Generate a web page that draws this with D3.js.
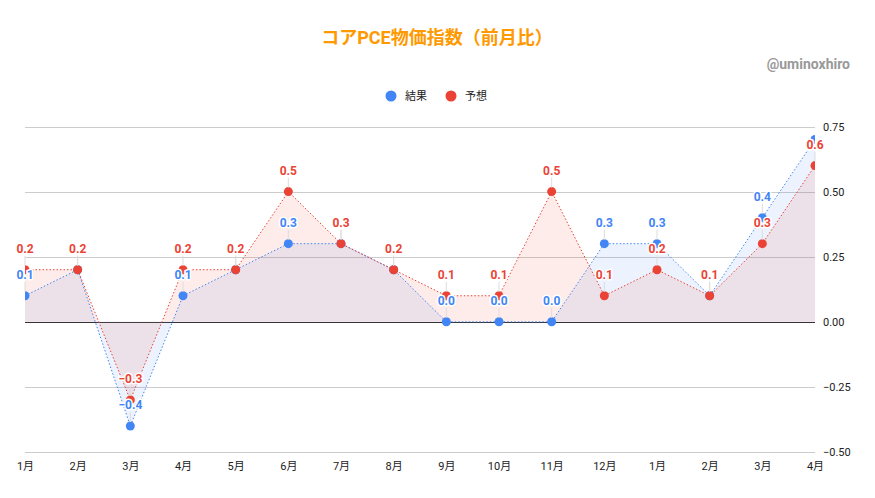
<!DOCTYPE html>
<html>
<head>
<meta charset="utf-8">
<script src="https://cdn.jsdelivr.net/npm/d3@7"></script>
<style>
  body { margin: 0; background: #fff; }
  text { font-family: Roboto, "Noto Sans CJK JP", sans-serif; }
</style>
</head>
<body>
<svg id="chart" width="875" height="498"></svg>
<script>
'use strict';

var months = ["1月", "2月", "3月", "4月", "5月", "6月", "7月", "8月", "9月", "10月", "11月", "12月", "1月", "2月", "3月", "4月"];
var actual = [0.1, 0.2, -0.4, 0.1, 0.2, 0.3, 0.3, 0.2, 0.0, 0.0, 0.0, 0.3, 0.3, 0.1, 0.4, 0.7];
var forecast = [0.2, 0.2, -0.3, 0.2, 0.2, 0.5, 0.3, 0.2, 0.1, 0.1, 0.5, 0.1, 0.2, 0.1, 0.3, 0.6];
var yTicks = [-0.5, -0.25, 0, 0.25, 0.5, 0.75];

var series = [
    { name: "結果", values: actual, color: "#4285f4" },
    { name: "予想", values: forecast, color: "#ea4335" }
];

var svg = d3.select("#chart");
var plotLeft = 25, plotRight = 815, plotTop = 126.5, plotBottom = 452;

var x = d3.scalePoint().domain(d3.range(months.length)).range([plotLeft, plotRight]);
var y = d3.scaleLinear().domain([-0.5, 0.75]).range([plotBottom, plotTop]);

// title + watermark
svg.append("text")
    .attr("x", 437).attr("y", 44)
    .attr("text-anchor", "middle")
    .attr("font-size", 18).attr("font-weight", "bold")
    .attr("fill", "#ff9900")
    .text("コアPCE物価指数（前月比）");

svg.append("text")
    .attr("x", 850).attr("y", 69)
    .attr("text-anchor", "end")
    .attr("font-size", 14).attr("font-weight", "bold")
    .attr("fill", "#999")
    .text("@uminoxhiro");

// legend
var legend = svg.append("g");
var lx = [391, 451];
series.forEach(function (s, i) {
    legend.append("circle").attr("cx", lx[i]).attr("cy", 96).attr("r", 5.5).attr("fill", s.color);
    legend.append("text").attr("x", lx[i] + 14).attr("y", 100)
        .attr("font-size", 11).attr("fill", "#222").text(s.name);
});

// grid
var yAxis = d3.axisRight(y).tickValues(yTicks).tickSize(0).tickFormat(d3.format(".2f"));
var gy = svg.append("g").attr("transform", "translate(" + plotRight + ",0)").call(yAxis);
gy.select(".domain").remove();
gy.selectAll("text").attr("x", 8).attr("font-size", 11).attr("fill", "#222")
    .attr("font-family", "Roboto, sans-serif");

svg.append("g").selectAll("line").data(yTicks).join("line")
    .attr("x1", plotLeft).attr("x2", plotRight)
    .attr("y1", function (d) { return Math.round(y(d)) + 0.5; })
    .attr("y2", function (d) { return Math.round(y(d)) + 0.5; })
    .attr("stroke", function (d) { return d === 0 ? "#333" : "#ccc"; })
    .attr("stroke-width", 1);

var xAxis = d3.axisBottom(x).tickSize(0).tickFormat(function (i) { return months[i]; });
var gx = svg.append("g").attr("transform", "translate(0," + (plotBottom + 7) + ")").call(xAxis);
gx.select(".domain").remove();
gx.selectAll("text").attr("font-size", 11).attr("fill", "#222")
    .attr("font-family", "Roboto, 'Noto Sans CJK JP', sans-serif");

svg.append("clipPath").attr("id", "clip")
    .append("rect").attr("x", plotLeft).attr("y", 0).attr("width", plotRight - plotLeft).attr("height", 498);

var plot = svg.append("g").attr("clip-path", "url(#clip)");

var area = d3.area()
    .x(function (d, i) { return x(i); })
    .y0(y(0))
    .y1(function (d) { return y(d); });
var line = d3.line()
    .x(function (d, i) { return x(i); })
    .y(function (d) { return y(d); });

series.forEach(function (s) {
    plot.append("path").attr("d", area(s.values))
        .attr("fill", s.color).attr("fill-opacity", 0.1);
});
series.forEach(function (s) {
    plot.append("path").attr("d", line(s.values))
        .attr("fill", "none").attr("stroke", s.color)
        .attr("stroke-width", 1).attr("stroke-dasharray", "1.5,2");
});

// leader lines
var labelOffset = 21;
series.forEach(function (s) {
    svg.append("g").selectAll("line").data(s.values).join("line")
        .filter(function (d) { return y(d) - labelOffset > plotTop; })
        .attr("x1", function (d, i) { return x(i); })
        .attr("x2", function (d, i) { return x(i); })
        .attr("y1", function (d) { return y(d) - 4; })
        .attr("y2", function (d) { return y(d) - 14; })
        .attr("stroke", "#ddd").attr("stroke-width", 1);
});

series.forEach(function (s) {
    plot.append("g").selectAll("circle").data(s.values).join("circle")
        .attr("cx", function (d, i) { return x(i); })
        .attr("cy", function (d) { return y(d); })
        .attr("r", 4.5)
        .attr("fill", s.color);
});

// data labels
series.forEach(function (s) {
    svg.append("g").selectAll("text").data(s.values).join("text")
        .filter(function (d) { return y(d) - labelOffset > plotTop; })
        .attr("x", function (d, i) { return x(i); })
        .attr("y", function (d) { return y(d) - labelOffset + 4.5; })
        .attr("text-anchor", "middle")
        .attr("font-size", 12).attr("font-weight", "bold")
        .attr("fill", s.color)
        .attr("stroke", "#fff").attr("stroke-width", 3)
        .attr("paint-order", "stroke")
        .text(function (d) { return d3.format(".1f")(d); });
});
</script>
</body>
</html>
